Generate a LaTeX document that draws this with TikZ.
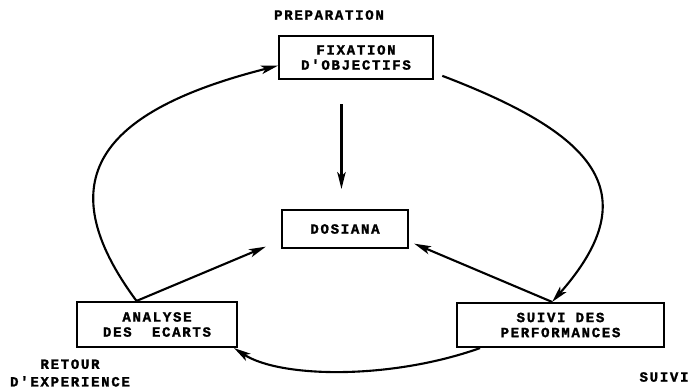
\documentclass[tikz,border=0pt]{standalone}
\usepackage{fontspec}
\newfontfamily\printfont[LetterSpace=12, BoldFeatures={FakeBold=1.6}]{Liberation Mono}
\usetikzlibrary{arrows.meta,calc}

\begin{document}
\begin{tikzpicture}[x=0.025cm, y=-0.025cm,
    stage/.style={draw, line width=1.5pt, inner sep=0pt, align=center,
      font=\printfont\bfseries\fontsize{10}{10.7}\selectfont},
    tag/.style={align=center, inner sep=0pt,
      font=\printfont\bfseries\fontsize{10}{12.5}\selectfont},
    flow/.style={line width=1.5pt, -{Stealth[length=12pt,width=6pt,inset=3pt]}}
  ]
  \useasboundingbox (0,0) rectangle (692,391);
  \node[stage, minimum width=3.85cm, minimum height=1.075cm] (fix) at (356,57.5) {FIXATION\\D'OBJECTIFS};
  \node[stage, minimum width=3.15cm, minimum height=0.95cm] (dos) at (345,229) {DOSIANA};
  \node[stage, minimum width=4cm, minimum height=1.125cm] (ana) at (157,324.5) {ANALYSE\\DES~~ECARTS};
  \node[stage, minimum width=5.175cm, minimum height=1.1cm] (suivi) at (560.5,325) {SUIVI DES\\PERFORMANCES};
  \node[tag] (prep) at (329,15) {PREPARATION};
  \node[tag] (retour) at (70,373) {RETOUR\\D'EXPERIENCE};
  \node[tag] (suivilbl) at (664,377) {SUIVI};
  \draw[flow] (ana.131) .. controls (47,180) and (99,111) .. (fix.186);
  \draw[flow, shorten <=0.22cm] (fix.-11) .. controls (592,133) and (650,191) .. (suivi.110);
  \draw[flow] (suivi.196) .. controls (390,380) and (280,378) .. (ana.-17);
  \draw[flow, shorten >=0.41cm] (ana.131) -- (dos.190);
  \draw[flow, shorten >=0.14cm] (suivi.110) -- (dos.-11);
  \draw[flow, shorten <=0.6cm, shorten >=0.5cm] (fix.south -| dos.100) -- (dos.100);
\end{tikzpicture}
\end{document}
